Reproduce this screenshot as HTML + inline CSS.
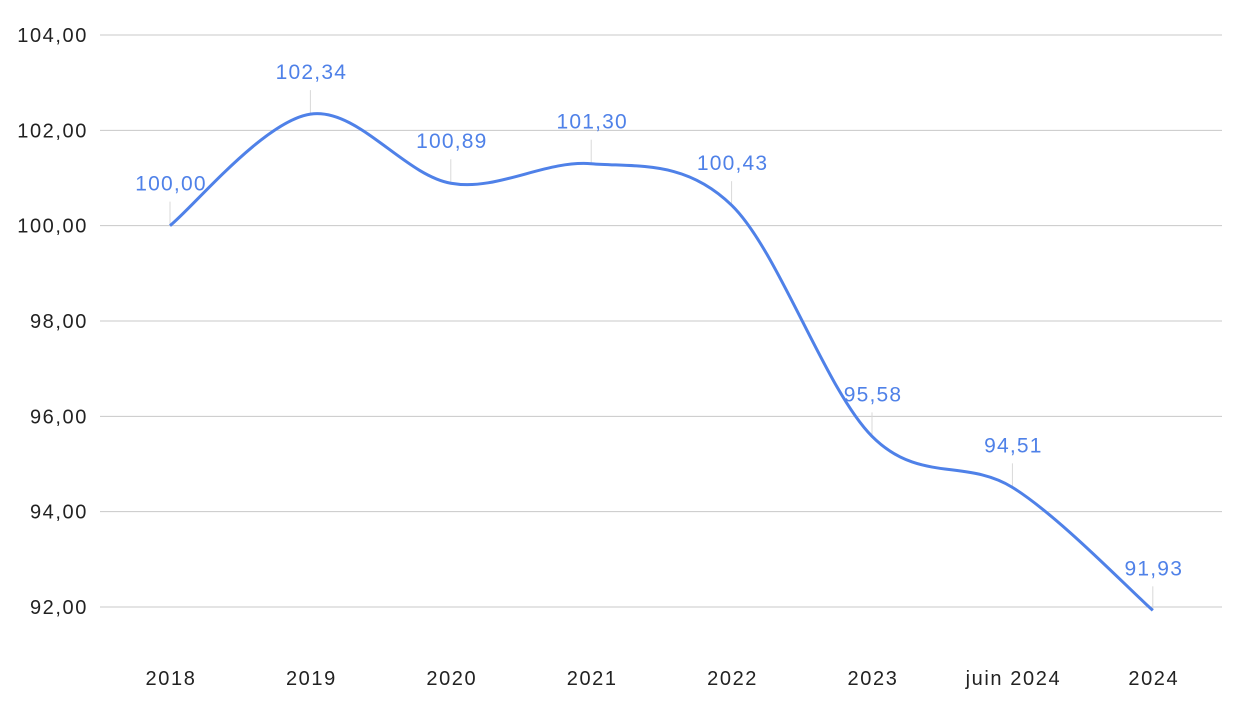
<!DOCTYPE html>
<html><head><meta charset="utf-8"><style>
body{margin:0;background:#fff}
svg{display:block;font-family:"Liberation Sans",Arial,sans-serif}
</style></head><body>
<svg id="chart" width="1242" height="714" viewBox="0 0 1242 714">
<g id="grid"></g>
<g id="yaxis"></g>
<g id="xaxis"></g>
<g id="series"></g>
</svg>
<script>
const categories=["2018","2019","2020","2021","2022","2023","juin 2024","2024"];
const values=[100.00,102.34,100.89,101.30,100.43,95.58,94.51,91.93];
const valueLabels=["100,00","102,34","100,89","101,30","100,43","95,58","94,51","91,93"];
const yTicks=[92,94,96,98,100,102,104];
const yTickLabels=["92,00","94,00","96,00","98,00","100,00","102,00","104,00"];
const NS="http://www.w3.org/2000/svg";
function y(v){return 607-(v-92)*(572/12);}
function x(i){return 170+i*140.4;}
function mk(tag,attrs,parent,text){const e=document.createElementNS(NS,tag);for(const k in attrs)e.setAttribute(k,attrs[k]);if(text!=null)e.textContent=text;parent.appendChild(e);return e;}
const grid=document.getElementById('grid'),ya=document.getElementById('yaxis'),xa=document.getElementById('xaxis'),se=document.getElementById('series');
yTicks.forEach((t,i)=>{
 const l=mk('line',{x1:100,x2:1222,y1:y(t),y2:y(t),stroke:'#c8c8c8','stroke-width':1},grid);
 
 
 const tx=mk('text',{x:88,y:y(t)+7,'text-anchor':'end','font-size':20,'letter-spacing':1.6,fill:'#222'},ya,yTickLabels[i]);
 
 
});
categories.forEach((c,i)=>{
 const tx=mk('text',{x:x(i)+1,y:685,'text-anchor':'middle','font-size':20,'letter-spacing':1.6,fill:'#222'},xa,c);
 
 
});
const pts=values.map((v,i)=>[x(i),y(v)]);
let d=`M${pts[0][0]},${pts[0][1]}`;
const t=0.5/3;
for(let i=0;i<pts.length-1;i++){
 const p0=pts[i-1]||pts[i],p1=pts[i],p2=pts[i+1],p3=pts[i+2]||pts[i+1];
 const c1=[p1[0]+(p2[0]-p0[0])*t,p1[1]+(p2[1]-p0[1])*t];
 const c2=[p2[0]-(p3[0]-p1[0])*t,p2[1]-(p3[1]-p1[1])*t];
 d+=` C${c1[0]},${c1[1]} ${c2[0]},${c2[1]} ${p2[0]},${p2[1]}`;
}
values.forEach((v,i)=>{
 const ld=mk('line',{x1:x(i),x2:x(i),y1:y(v)-24,y2:y(v),stroke:'#d8d8d8','stroke-width':1},se);
 
 
});
const path=mk('path',{d:d,fill:'none',stroke:'#4f81e8','stroke-width':3,'stroke-linejoin':'round'},se);


values.forEach((v,i)=>{
 const tx=mk('text',{x:x(i)+1,y:y(v)-35,'text-anchor':'middle','font-size':21,'letter-spacing':1.2,fill:'#4f81e8'},se,valueLabels[i]);
 
 
});
</script>
</body></html>
